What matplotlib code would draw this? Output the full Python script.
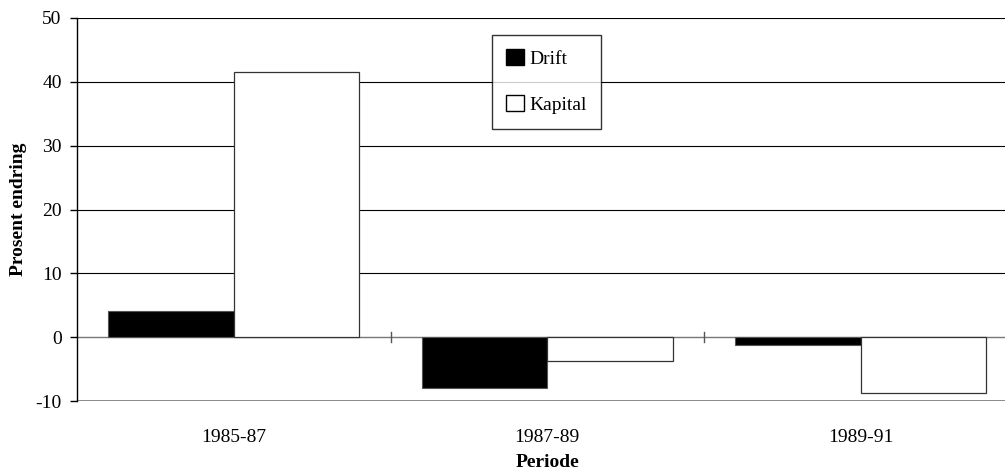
import matplotlib
matplotlib.use("Agg")
import matplotlib.pyplot as plt
import numpy as np
from matplotlib.patches import Patch

plt.rcParams['font.family'] = ['Liberation Serif', 'DejaVu Serif']
plt.rcParams['axes.unicode_minus'] = False

periods = ["1985-87", "1987-89", "1989-91"]
drift = [4.1, -8.0, -1.3]
kapital = [41.5, -3.7, -8.8]

fig = plt.figure(figsize=(10.05, 4.71), dpi=100)
ax = fig.add_axes([0.0766, 0.1486, 0.9234, 0.8132])

x = np.arange(len(periods))
w = 0.4
ax.bar(x - w / 2, drift, w, color='black', edgecolor='#555555', linewidth=0.8, zorder=3)
ax.bar(x + w / 2, kapital, w, color='white', edgecolor='#333333', linewidth=0.9, zorder=3)

ax.set_ylim(-10, 50)
ax.set_xlim(-0.5, 2.46)
ax.set_yticks(range(-10, 51, 10))
for yv in range(10, 51, 10):
    ax.axhline(yv, color='black', linewidth=0.8, zorder=1)
ax.axhline(-10, color='#777777', linewidth=1.2, zorder=1)
ax.axhline(0, color='#777777', linewidth=1.0, zorder=2)

# separators between the periods on the zero line
for sx in [0.5, 1.5]:
    ax.plot([sx, sx], [-0.8, 0.8], color='#555555', linewidth=1.0, zorder=2)

for s in ['top', 'right', 'bottom']:
    ax.spines[s].set_visible(False)
ax.spines['left'].set_linewidth(1.0)

ax.set_xticks(x)
ax.set_xticklabels(periods, fontsize=14)
ax.tick_params(axis='x', length=0, pad=20)
ax.tick_params(axis='y', length=5, width=1.0, labelsize=14, pad=6)

fig.text(0.018, 0.556, "Prosent endring", fontsize=14, fontweight='bold',
         rotation=90, ha='center', va='center')
fig.text(0.545, 0.017, "Periode", fontsize=14, fontweight='bold',
         ha='center', va='center')

handles = [Patch(facecolor='black', edgecolor='black', label='Drift'),
           Patch(facecolor='white', edgecolor='black', label='Kapital')]
leg = ax.legend(handles=handles, loc='upper left', bbox_to_anchor=(0.447, 0.956),
                fontsize=14, frameon=True, fancybox=False, edgecolor='black',
                handlelength=0.88, handleheight=0.88, labelspacing=1.4,
                borderpad=0.75, handletextpad=0.3, borderaxespad=0)
leg.get_frame().set_linewidth(1.0)
leg.set_zorder(5)

fig.savefig("out.png", dpi=100, facecolor='white')
